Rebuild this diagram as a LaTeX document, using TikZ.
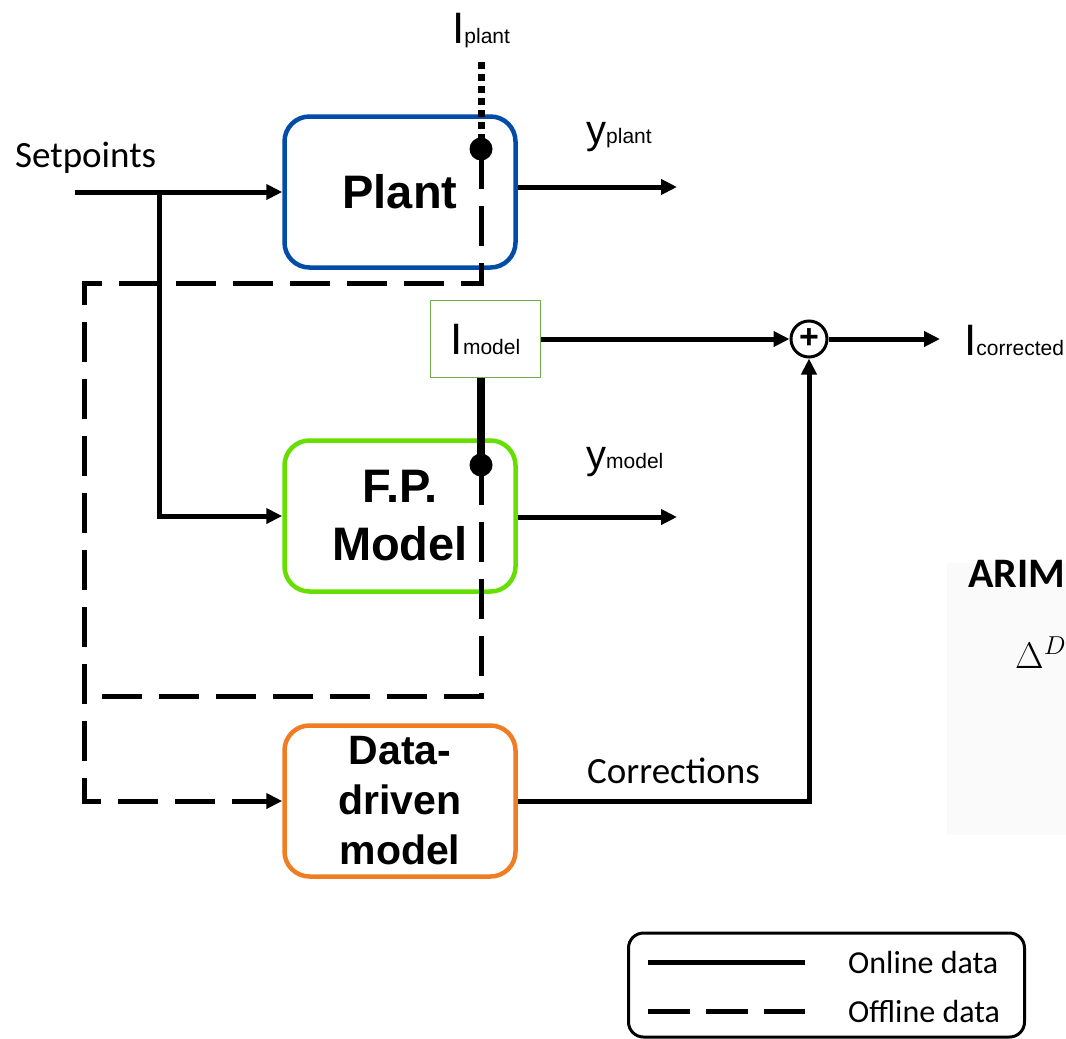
\RequirePackage{fix-cm}
\documentclass[tikz,border=0pt]{standalone}
\usepackage{fontspec}
\setmainfont{Liberation Sans}
\newfontfamily\calibri{Carlito}
\usetikzlibrary{arrows.meta,positioning,calc}
\definecolor{plantblue}{RGB}{0,76,168}
\definecolor{fpgreen}{RGB}{102,222,0}
\definecolor{ddorange}{RGB}{240,125,35}
\definecolor{imgreen}{RGB}{112,173,71}
\definecolor{arimbg}{RGB}{250,250,250}
\newcommand{\isub}[3][44]{{\fontsize{#1}{#1}\selectfont #2}{\fontsize{21}{21}\selectfont #3}}

\begin{document}
\begin{tikzpicture}[x=1pt,y=-1pt,
  block/.style={draw,line width=4.5pt,rounded corners=25pt,align=center,
    font=\bfseries\fontsize{47}{58}\selectfont,minimum width=231pt,minimum height=151pt},
  online/.style={line width=5pt},
  offline/.style={line width=5pt,dash pattern=on 40pt off 17pt},
  tip/.style={-{Triangle[length=16pt,width=15pt]}},
  lbl/.style={inner sep=0pt,anchor=base west}]
\useasboundingbox (0,0) rectangle (1066,1039);

\fill[arimbg] (947,563) rectangle (1066,835);
\node[lbl,font=\calibri\bfseries\fontsize{42}{42}\selectfont] (arim) at (968,587) {ARIM};
\node[lbl,font=\fontsize{37}{37}\selectfont] (delta) at (1015,668) {$\Delta^{D}$};

\node[block,draw=plantblue] (plant) at (400,192) {Plant};
\node[block,draw=fpgreen] (fpmodel) at (400,516) {F.P.\\Model};
\node[block,draw=ddorange,font=\bfseries\fontsize{41}{50}\selectfont] (ddmodel) at (400,801) {Data-\\driven\\model};
\node[draw=imgreen,line width=1.5pt,minimum width=110pt,minimum height=77pt,inner sep=0pt] (imodel) at (485.5,339) {\isub{I}{model}};
\node[circle,draw,line width=3pt,minimum size=36pt,inner sep=0pt,font=\bfseries\fontsize{34}{34}\selectfont] (sum) at (809,339) {+};

\coordinate (pdot) at (481,149);
\coordinate (fdot) at (481,465);
\coordinate (ptop) at (481,62);
\coordinate (spin) at (75,192);
\coordinate (spbr) at (159,192);
\coordinate (offtop) at (84,283);
\coordinate (offbot) at (84,696);
\coordinate (yplant) at (677,187);
\coordinate (ymodel) at (677,517);
\coordinate (icorr) at (940,339);

\node[lbl,font=\calibri\fontsize{37}{37}\selectfont] (setp) at (15,167) {Setpoints};
\node[lbl] (iplant) at (452,43) {\isub{I}{plant}};
\node[lbl] (yplantlbl) at (586,143) {\isub[40]{y}{plant}};
\node[lbl] (ymodellbl) at (586,468) {\isub[40]{y}{model}};
\node[lbl] (icorrlbl) at (964,355) {\isub{I}{corrected}};
\node[lbl,font=\calibri\fontsize{37}{37}\selectfont] (corr) at (587,783) {Corrections};

\draw[online,tip] (spin) -- (plant.west);
\draw[online,tip] (spbr) |- (fpmodel.west);
\draw[online,tip] (plant.east |- yplant) -- (yplant);
\draw[online,tip] (fpmodel.east |- ymodel) -- (ymodel);
\draw[online,tip] (imodel.east) -- (sum.west);
\draw[online,tip] (sum.east) -- (icorr);
\draw[online,tip] (ddmodel.east) -| (sum.south);
\draw[line width=8pt] (imodel.south -| fdot) -- (fdot);
\draw[line width=7pt,dash pattern=on 7pt off 5pt] (ptop) -- (pdot);
\draw[offline,tip] (pdot) |- (offtop) |- (ddmodel.west);
\draw[offline] (fdot) |- (offbot);
\fill (pdot) circle (11.5pt);
\fill (fdot) circle (11.5pt);

\node[draw,line width=3pt,rounded corners=15pt,minimum width=396pt,minimum height=104pt] (legend) at (826.5,985) {};
\coordinate (lon) at (648,962);
\coordinate (lonend) at (805,962);
\coordinate (loff) at (648,1011);
\coordinate (loffend) at (805,1011);
\draw[online] (lon) -- (lonend);
\draw[line width=5pt,dash pattern=on 42pt off 16pt] (loff) -- (loffend);
\node[lbl,font=\calibri\fontsize{32}{32}\selectfont] (lonlbl) at (848,973) {Online data};
\node[lbl,font=\calibri\fontsize{32}{32}\selectfont] (lofflbl) at (848,1022) {Offline data};
\end{tikzpicture}
\end{document}
